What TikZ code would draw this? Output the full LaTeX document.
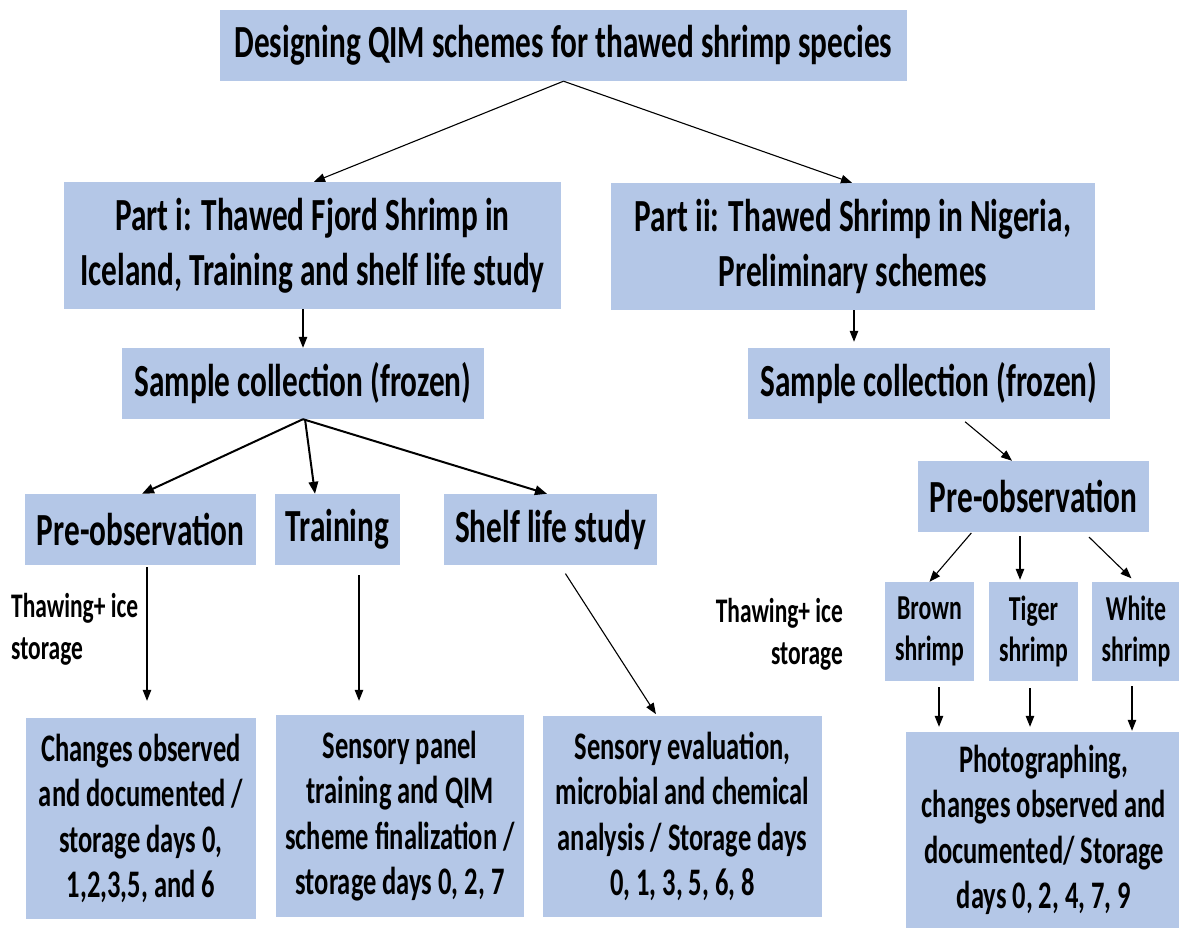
\documentclass[tikz,border=0pt]{standalone}
\usepackage{fontspec}
\setmainfont{Carlito}[FakeStretch=0.68]
\usetikzlibrary{arrows.meta}
\definecolor{boxblue}{HTML}{B4C7E7}
\begin{document}
\begin{tikzpicture}[x=1pt,y=-1pt,
  box/.style={fill=boxblue, draw=none, inner sep=0pt, align=center},
  bigtxt/.style={font=\bfseries\fontsize{46}{55}\selectfont},
  midtxt/.style={font=\bfseries\fontsize{39}{45.5}\selectfont},
  smalltxt/.style={font=\bfseries\fontsize{35}{41}\selectfont},
  lbltxt/.style={font=\bfseries\fontsize{34.5}{42}\selectfont, inner sep=0pt},
  arr/.style={-{Triangle[length=11pt,width=8.5pt]}, line width=1.1pt},
  arrthick/.style={-{Triangle[length=12pt,width=9.5pt]}, line width=2pt}]
\clip (0,0) rectangle (1179,928);
\useasboundingbox (0,0) rectangle (1179,928);
\fill[white] (0,0) rectangle (1179,928);

% boxes
\node[box,bigtxt,minimum width=687pt,minimum height=71pt] (top) at (563.5,45.5) {Designing QIM schemes for thawed shrimp species};
\node[box,bigtxt,minimum width=497pt,minimum height=127pt] (p1) at (312.5,245.5) {Part i: Thawed Fjord Shrimp in\\Iceland, Training and shelf life study};
\node[box,bigtxt,minimum width=484pt,minimum height=127pt] (p2) at (853,246.5) {Part ii: Thawed Shrimp in Nigeria,\\Preliminary schemes};
\node[box,bigtxt,minimum width=362pt,minimum height=71pt] (scL) at (303,383.5) {Sample collection (frozen)};
\node[box,bigtxt,minimum width=362pt,minimum height=71pt] (scR) at (929,383.5) {Sample collection (frozen)};
\node[box,bigtxt,minimum width=231pt,minimum height=71pt] (preL) at (140.5,529.5) {Pre-observation};
\node[box,bigtxt,minimum width=125pt,minimum height=71pt] (train) at (337.5,529.5) {Training};
\node[box,bigtxt,minimum width=213pt,minimum height=71pt] (shelf) at (550.5,529.5) {Shelf life study};
\node[box,bigtxt,minimum width=231pt,minimum height=71pt] (preR) at (1033.5,496.5) {Pre-observation};
\node[box,smalltxt,minimum width=89pt,minimum height=99pt] (brown) at (929.5,631.5) {Brown\\shrimp};
\node[box,smalltxt,minimum width=89pt,minimum height=99pt] (tiger) at (1033.5,631.5) {Tiger\\shrimp};
\node[box,smalltxt,minimum width=88pt,minimum height=99pt] (white) at (1136,631.5) {White\\shrimp};
\node[box,midtxt,minimum width=230pt,minimum height=201pt] (chg) at (141,818.5) {Changes observed\\and documented /\\storage days 0,\\1,2,3,5, and 6};
\node[box,midtxt,minimum width=248pt,minimum height=202pt] (panel) at (400,816) {Sensory panel\\training and QIM\\scheme finalization /\\storage days 0, 2, 7};
\node[box,midtxt,minimum width=279pt,minimum height=201pt] (eval) at (682.5,816.5) {Sensory evaluation,\\microbial and chemical\\analysis / Storage days\\0, 1, 3, 5, 6, 8};
\node[box,midtxt,minimum width=276pt,minimum height=196pt] (photo) at (1044,830) {Photographing,\\changes observed and\\documented/ Storage\\days 0, 2, 4, 7, 9};

% labels
\node[lbltxt,align=left,anchor=north west] (lblL) at (11,593) {Thawing+ ice\\storage};
\node[lbltxt,align=right,anchor=north east] (lblR) at (843,598) {Thawing+ ice\\storage};

% connectors
\draw[arr] (top.south) -- ([xshift=1.5pt]p1.north);
\draw[arr] (top.south) -- ([xshift=-1pt]p2.north);
\draw[arr] ([xshift=-9.5pt]p1.south) -- (scL.north);
\draw[arr, shorten >=6pt] ([xshift=1pt]p2.south) -- ([xshift=-75pt]scR.north);
\draw[arrthick] (scL.south) -- ([xshift=1.5pt]preL.north);
\draw[arrthick] ([xshift=2pt]scL.south) -- ([xshift=-22.5pt]train.north);
\draw[arrthick] (scL.south) -- ([xshift=-3.5pt]shelf.north);
\draw[arr, shorten <=4pt] ([xshift=33pt]scR.south) -- ([xshift=-21.5pt]preR.north);
\draw[arr, shorten <=1pt] ([xshift=-61.5pt]preR.south) -- (brown.north);
\draw[arr, shorten <=4pt, shorten >=2pt] ([xshift=-13.5pt]preR.south) -- ([xshift=-13.5pt]tiger.north);
\draw[arr, shorten <=7pt, shorten >=5pt] ([xshift=50.5pt]preR.south) -- ([xshift=-1pt]white.north);
\draw[arr, shorten <=2pt, shorten >=17pt] ([xshift=6.5pt]preL.south) -- ([xshift=6pt]chg.north);
\draw[arr, shorten <=10pt, shorten >=14pt] ([xshift=21.5pt]train.south) -- ([xshift=-41pt]panel.north);
\draw[arr, shorten <=10pt, shorten >=2pt] ([xshift=9.5pt]shelf.south) -- ([xshift=-25.5pt]eval.north);
\draw[arr, shorten <=6pt, shorten >=5pt] ([xshift=9.5pt]brown.south) -- ([xshift=-105pt]photo.north);
\draw[arr, shorten <=7pt, shorten >=5pt] ([xshift=-3.5pt]tiger.south) -- ([xshift=-14pt]photo.north);
\draw[arr, shorten <=5pt, shorten >=1pt] ([xshift=-4pt]white.south) -- ([xshift=88pt]photo.north);
\end{tikzpicture}
\end{document}
